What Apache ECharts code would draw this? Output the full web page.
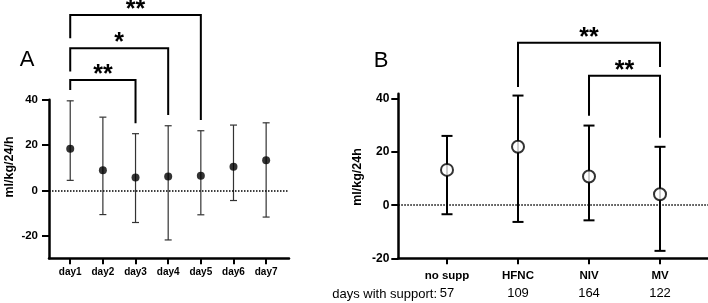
<!DOCTYPE html>
<html>
<head>
<meta charset="utf-8">
<script src="https://cdn.jsdelivr.net/npm/echarts@6/dist/echarts.min.js"></script>
<style>
  html, body { margin: 0; padding: 0; background: #fff; }
  #chart { width: 708px; height: 303px; }
</style>
</head>
<body>
<div id="chart"></div>
<script>
// panel A: fluid balance per day
const days = ['day1', 'day2', 'day3', 'day4', 'day5', 'day6', 'day7'];
const dayMean = [18.4, 8.9, 5.7, 6.1, 6.4, 10.4, 13.3];
const dayUpper = [39.5, 32.3, 25.0, 28.5, 26.3, 28.8, 29.8];
const dayLower = [4.4, -10.7, -14.2, -21.9, -10.8, -4.5, -11.8];
// brackets: [fromIndex, toIndex, top, leftEnd, rightEnd]
const dayBrackets = [[1, 5, 77.4, 67.1, 31.0], [1, 4, 62.7, 52.4, 33.2], [1, 3, 48.7, 44.3, 29.6]];
const dayStars = ['**', '*', '**'];

// panel B: by respiratory support
const supports = ['no supp', 'HFNC', 'NIV', 'MV'];
const suppMean = [13.3, 22.0, 10.8, 4.1];
const suppUpper = [26.1, 41.3, 30.0, 22.0];
const suppLower = [-3.4, -6.3, -5.7, -17.2];
const suppDays = [57, 109, 164, 122];
const suppBrackets = [[2, 4, 61.2, 44.5, 52.1], [3, 4, 48.8, 33.7, 25.4]];
const suppStars = ['**', '**'];

const yTicks = [-20, 0, 20, 40];
const FONT = 'Liberation Sans, Arial, Helvetica, sans-serif';

const chart = echarts.init(document.getElementById('chart'));

function errorBars(capHalf, width, color) {
    return function (params, api) {
        const x = api.value(0);
        const lo = api.coord([x, api.value(1)]);
        const hi = api.coord([x, api.value(2)]);
        const st = { stroke: color, lineWidth: width };
        return {
            type: 'group',
            children: [
                { type: 'line', shape: { x1: lo[0], y1: lo[1], x2: hi[0], y2: hi[1] }, style: st },
                { type: 'line', shape: { x1: lo[0] - capHalf, y1: lo[1], x2: lo[0] + capHalf, y2: lo[1] }, style: st },
                { type: 'line', shape: { x1: hi[0] - capHalf, y1: hi[1], x2: hi[0] + capHalf, y2: hi[1] }, style: st }
            ]
        };
    };
}

function brackets(stars) {
    return function (params, api) {
        const a = api.value(0), b = api.value(1);
        const tl = api.coord([a, api.value(2)]);
        const tr = api.coord([b, api.value(2)]);
        const bl = api.coord([a, api.value(3)]);
        const br = api.coord([b, api.value(4)]);
        return {
            type: 'group',
            children: [
                {
                    type: 'polyline',
                    shape: { points: [bl, tl, tr, br] },
                    style: { stroke: '#000', lineWidth: 2, fill: null }
                },
                {
                    type: 'text',
                    x: (tl[0] + tr[0]) / 2,
                    y: tl[1] - 5,
                    style: {
                        text: stars[params.dataIndex],
                        font: 'bold 25px ' + FONT,
                        fill: '#000',
                        align: 'center',
                        verticalAlign: 'middle'
                    }
                }
            ]
        };
    };
}

const zeroLine = {
    silent: true,
    symbol: 'none',
    label: { show: false },
    lineStyle: { type: 'dotted', color: '#000', width: 1.5 },
    data: [{ yAxis: 0 }]
};

const idxA = days.map((d, i) => i + 1);
const idxB = supports.map((d, i) => i + 1);

const option = {
    animation: false,
    grid: [
        { left: 49, top: 99.7, width: 240, height: 158.6, outerBoundsMode: 'none' },
        { left: 398.3, top: 93.7, right: 0, height: 164.6, outerBoundsMode: 'none' }
    ],
    xAxis: [
        {
            gridIndex: 0, type: 'value', min: 0.35, max: 7.7,
            splitLine: { show: false },
            axisLine: { onZero: false, lineStyle: { color: '#000', width: 2.5 } },
            axisTick: { customValues: idxA, length: 6, lineStyle: { color: '#000', width: 2 } },
            axisLabel: {
                customValues: idxA, margin: 9, color: '#000',
                fontFamily: FONT, fontWeight: 'bold', fontSize: 10,
                formatter: v => days[v - 1]
            }
        },
        {
            gridIndex: 1, type: 'value', min: 0.314, max: 4.676,
            splitLine: { show: false },
            axisLine: { onZero: false, lineStyle: { color: '#000', width: 2.5 } },
            axisTick: { customValues: idxB, length: 6, lineStyle: { color: '#000', width: 2 } },
            axisLabel: {
                customValues: idxB, margin: 10, color: '#000',
                formatter: v => '{c|' + supports[v - 1] + '}\n{n|' + suppDays[v - 1] + '}',
                rich: {
                    c: { fontFamily: FONT, fontWeight: 'bold', fontSize: 11.5, lineHeight: 16, color: '#000' },
                    n: { fontFamily: FONT, fontSize: 13, lineHeight: 18, color: '#000' }
                }
            }
        }
    ],
    yAxis: [
        {
            gridIndex: 0, type: 'value', min: -30, max: 40,
            splitLine: { show: false },
            axisLine: { show: true, onZero: false, lineStyle: { color: '#000', width: 2.5 } },
            axisTick: { show: true, customValues: yTicks, length: 7, lineStyle: { color: '#000', width: 2 } },
            axisLabel: {
                customValues: yTicks, margin: 11, color: '#000',
                fontFamily: FONT, fontWeight: 'bold', fontSize: 11.5
            }
        },
        {
            gridIndex: 1, type: 'value', min: -20, max: 42,
            splitLine: { show: false },
            axisLine: { show: true, onZero: false, lineStyle: { color: '#000', width: 2.5 } },
            axisTick: { show: true, customValues: yTicks, length: 7, lineStyle: { color: '#000', width: 2 } },
            axisLabel: {
                customValues: yTicks, margin: 9, color: '#000',
                fontFamily: FONT, fontWeight: 'bold', fontSize: 12
            }
        }
    ],
    graphic: [
        { type: 'text', x: 27, y: 60, style: { text: 'A', font: '22px ' + FONT, fill: '#000', align: 'center', verticalAlign: 'middle' } },
        { type: 'text', x: 381, y: 61, style: { text: 'B', font: '22px ' + FONT, fill: '#000', align: 'center', verticalAlign: 'middle' } },
        { type: 'text', x: 10, y: 167, rotation: Math.PI / 2, style: { text: 'ml/kg/24/h', font: 'bold 12.5px ' + FONT, fill: '#000', align: 'center', verticalAlign: 'middle' } },
        { type: 'text', x: 358, y: 177, rotation: Math.PI / 2, style: { text: 'ml/kg/24h', font: 'bold 12.5px ' + FONT, fill: '#000', align: 'center', verticalAlign: 'middle' } },
        { type: 'text', x: 437, y: 294, style: { text: 'days with support:', font: '13px ' + FONT, fill: '#000', align: 'right', verticalAlign: 'middle' } }
    ],
    series: [
        {
            type: 'custom', xAxisIndex: 0, yAxisIndex: 0, z: 2,
            renderItem: errorBars(3.5, 1.2, '#333'),
            data: days.map((d, i) => [i + 1, dayLower[i], dayUpper[i]]),
            markLine: zeroLine
        },
        {
            type: 'scatter', xAxisIndex: 0, yAxisIndex: 0, z: 5,
            symbol: 'circle', symbolSize: 8,
            itemStyle: { color: '#000' },
            data: days.map((d, i) => [i + 1, dayMean[i]])
        },
        {
            type: 'custom', xAxisIndex: 0, yAxisIndex: 0, clip: false,
            renderItem: brackets(dayStars),
            data: dayBrackets
        },
        {
            type: 'custom', xAxisIndex: 1, yAxisIndex: 1, z: 2,
            renderItem: errorBars(5.5, 2, '#000'),
            data: supports.map((d, i) => [i + 1, suppLower[i], suppUpper[i]]),
            markLine: zeroLine
        },
        {
            type: 'scatter', xAxisIndex: 1, yAxisIndex: 1, z: 5,
            symbol: 'circle', symbolSize: 12,
            itemStyle: { color: '#fff', borderColor: '#000', borderWidth: 2 },
            data: supports.map((d, i) => [i + 1, suppMean[i]])
        },
        {
            type: 'custom', xAxisIndex: 1, yAxisIndex: 1, clip: false,
            renderItem: brackets(suppStars),
            data: suppBrackets
        }
    ]
};

chart.setOption(option);
</script>
</body>
</html>
